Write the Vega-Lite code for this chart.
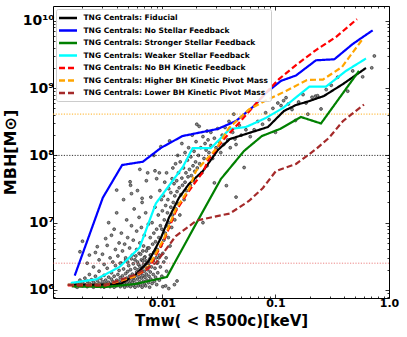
{
  "$schema": "https://vega.github.io/schema/vega-lite/v6.json",
  "width": 336,
  "height": 292,
  "padding": {"left": 2, "top": 5, "right": 5, "bottom": 0},
  "config": {
    "view": {"stroke": "#000", "strokeWidth": 1},
    "font": "DejaVu Sans",
    "axis": {"domain": false, "grid": false, "labelFont": "DejaVu Sans", "labelFontWeight": "bold", "titleFont": "DejaVu Sans", "titleFontWeight": "bold", "tickColor": "#000", "tickWidth": 0.8, "labelColor": "#000", "titleColor": "#000", "labelOverlap": false, "labelFlush": false},
    "legend": {"orient": "top-left", "offset": 3, "padding": 2.5, "fillColor": "rgba(255,255,255,0.85)", "strokeColor": "#cccccc", "strokeWidth": 1, "cornerRadius": 2, "symbolType": "M-1.8,0H1.8", "symbolSize": 100, "symbolOffset": 3, "symbolStrokeWidth": 2.5, "labelFont": "DejaVu Sans", "labelFontWeight": "bold", "labelFontSize": 7.5, "labelColor": "#000", "labelLimit": 400, "rowPadding": 0.5, "labelOffset": 9}
  },
  "datasets": {
    "lines": [
      {"series": "TNG Centrals: Fiducial", "t": 0.001485, "m": 1190000},
      {"series": "TNG Centrals: Fiducial", "t": 0.00262, "m": 1190000},
      {"series": "TNG Centrals: Fiducial", "t": 0.00435, "m": 1230000},
      {"series": "TNG Centrals: Fiducial", "t": 0.0059, "m": 1700000},
      {"series": "TNG Centrals: Fiducial", "t": 0.00768, "m": 2700000},
      {"series": "TNG Centrals: Fiducial", "t": 0.0098, "m": 5900000},
      {"series": "TNG Centrals: Fiducial", "t": 0.01153, "m": 11800000},
      {"series": "TNG Centrals: Fiducial", "t": 0.01412, "m": 23300000},
      {"series": "TNG Centrals: Fiducial", "t": 0.0173, "m": 37600000},
      {"series": "TNG Centrals: Fiducial", "t": 0.023, "m": 58600000},
      {"series": "TNG Centrals: Fiducial", "t": 0.0311, "m": 120000000},
      {"series": "TNG Centrals: Fiducial", "t": 0.0397, "m": 175000000},
      {"series": "TNG Centrals: Fiducial", "t": 0.0584, "m": 215000000},
      {"series": "TNG Centrals: Fiducial", "t": 0.0859, "m": 264000000},
      {"series": "TNG Centrals: Fiducial", "t": 0.1188, "m": 457000000},
      {"series": "TNG Centrals: Fiducial", "t": 0.1517, "m": 561000000},
      {"series": "TNG Centrals: Fiducial", "t": 0.1933, "m": 632000000},
      {"series": "TNG Centrals: Fiducial", "t": 0.2675, "m": 764000000},
      {"series": "TNG Centrals: Fiducial", "t": 0.3935, "m": 1150000000},
      {"series": "TNG Centrals: Fiducial", "t": 0.627, "m": 1990000000},
      {"series": "TNG Centrals: No Stellar Feedback", "t": 0.00171, "m": 1640000},
      {"series": "TNG Centrals: No Stellar Feedback", "t": 0.00302, "m": 23500000},
      {"series": "TNG Centrals: No Stellar Feedback", "t": 0.00447, "m": 72000000},
      {"series": "TNG Centrals: No Stellar Feedback", "t": 0.0068, "m": 80500000},
      {"series": "TNG Centrals: No Stellar Feedback", "t": 0.00986, "m": 130000000},
      {"series": "TNG Centrals: No Stellar Feedback", "t": 0.0152, "m": 194000000},
      {"series": "TNG Centrals: No Stellar Feedback", "t": 0.031, "m": 247000000},
      {"series": "TNG Centrals: No Stellar Feedback", "t": 0.0449, "m": 324000000},
      {"series": "TNG Centrals: No Stellar Feedback", "t": 0.0647, "m": 542000000},
      {"series": "TNG Centrals: No Stellar Feedback", "t": 0.0824, "m": 845000000},
      {"series": "TNG Centrals: No Stellar Feedback", "t": 0.1118, "m": 1280000000},
      {"series": "TNG Centrals: No Stellar Feedback", "t": 0.1517, "m": 1540000000},
      {"series": "TNG Centrals: No Stellar Feedback", "t": 0.2275, "m": 2590000000},
      {"series": "TNG Centrals: No Stellar Feedback", "t": 0.33, "m": 2680000000},
      {"series": "TNG Centrals: No Stellar Feedback", "t": 0.479, "m": 4520000000},
      {"series": "TNG Centrals: No Stellar Feedback", "t": 0.718, "m": 7230000000},
      {"series": "TNG Centrals: Stronger Stellar Feedback", "t": 0.00161, "m": 1130000},
      {"series": "TNG Centrals: Stronger Stellar Feedback", "t": 0.00321, "m": 1110000},
      {"series": "TNG Centrals: Stronger Stellar Feedback", "t": 0.0059, "m": 1230000},
      {"series": "TNG Centrals: Stronger Stellar Feedback", "t": 0.01107, "m": 1560000},
      {"series": "TNG Centrals: Stronger Stellar Feedback", "t": 0.01995, "m": 9570000},
      {"series": "TNG Centrals: Stronger Stellar Feedback", "t": 0.0331, "m": 44600000},
      {"series": "TNG Centrals: Stronger Stellar Feedback", "t": 0.0528, "m": 116000000},
      {"series": "TNG Centrals: Stronger Stellar Feedback", "t": 0.076, "m": 194000000},
      {"series": "TNG Centrals: Stronger Stellar Feedback", "t": 0.1096, "m": 247000000},
      {"series": "TNG Centrals: Stronger Stellar Feedback", "t": 0.1678, "m": 372000000},
      {"series": "TNG Centrals: Stronger Stellar Feedback", "t": 0.2518, "m": 298000000},
      {"series": "TNG Centrals: Stronger Stellar Feedback", "t": 0.544, "m": 1800000000},
      {"series": "TNG Centrals: Weaker Stellar Feedback", "t": 0.001578, "m": 1270000},
      {"series": "TNG Centrals: Weaker Stellar Feedback", "t": 0.002636, "m": 1440000},
      {"series": "TNG Centrals: Weaker Stellar Feedback", "t": 0.004238, "m": 2200000},
      {"series": "TNG Centrals: Weaker Stellar Feedback", "t": 0.00636, "m": 4260000},
      {"series": "TNG Centrals: Weaker Stellar Feedback", "t": 0.00885, "m": 19300000},
      {"series": "TNG Centrals: Weaker Stellar Feedback", "t": 0.0153, "m": 67300000},
      {"series": "TNG Centrals: Weaker Stellar Feedback", "t": 0.01864, "m": 128000000},
      {"series": "TNG Centrals: Weaker Stellar Feedback", "t": 0.027, "m": 128000000},
      {"series": "TNG Centrals: Weaker Stellar Feedback", "t": 0.0397, "m": 247000000},
      {"series": "TNG Centrals: Weaker Stellar Feedback", "t": 0.055, "m": 264000000},
      {"series": "TNG Centrals: Weaker Stellar Feedback", "t": 0.0824, "m": 360000000},
      {"series": "TNG Centrals: Weaker Stellar Feedback", "t": 0.1164, "m": 506000000},
      {"series": "TNG Centrals: Weaker Stellar Feedback", "t": 0.1986, "m": 1050000000},
      {"series": "TNG Centrals: Weaker Stellar Feedback", "t": 0.2786, "m": 1050000000},
      {"series": "TNG Centrals: Weaker Stellar Feedback", "t": 0.418, "m": 1800000000},
      {"series": "TNG Centrals: Weaker Stellar Feedback", "t": 0.627, "m": 2750000000},
      {"series": "TNG Centrals: No BH Kinetic Feedback", "t": 0.001485, "m": 1170000},
      {"series": "TNG Centrals: No BH Kinetic Feedback", "t": 0.00321, "m": 1170000},
      {"series": "TNG Centrals: No BH Kinetic Feedback", "t": 0.0059, "m": 1610000},
      {"series": "TNG Centrals: No BH Kinetic Feedback", "t": 0.00768, "m": 2120000},
      {"series": "TNG Centrals: No BH Kinetic Feedback", "t": 0.0104, "m": 5350000},
      {"series": "TNG Centrals: No BH Kinetic Feedback", "t": 0.01328, "m": 14900000},
      {"series": "TNG Centrals: No BH Kinetic Feedback", "t": 0.0173, "m": 29600000},
      {"series": "TNG Centrals: No BH Kinetic Feedback", "t": 0.023, "m": 56600000},
      {"series": "TNG Centrals: No BH Kinetic Feedback", "t": 0.02594, "m": 88300000},
      {"series": "TNG Centrals: No BH Kinetic Feedback", "t": 0.0352, "m": 175000000},
      {"series": "TNG Centrals: No BH Kinetic Feedback", "t": 0.0477, "m": 303000000},
      {"series": "TNG Centrals: No BH Kinetic Feedback", "t": 0.0776, "m": 764000000},
      {"series": "TNG Centrals: No BH Kinetic Feedback", "t": 0.1074, "m": 1360000000},
      {"series": "TNG Centrals: No BH Kinetic Feedback", "t": 0.1517, "m": 2200000000},
      {"series": "TNG Centrals: No BH Kinetic Feedback", "t": 0.2275, "m": 3680000000},
      {"series": "TNG Centrals: No BH Kinetic Feedback", "t": 0.341, "m": 5740000000},
      {"series": "TNG Centrals: No BH Kinetic Feedback", "t": 0.5224, "m": 10600000000},
      {"series": "TNG Centrals: Higher BH Kinetic Pivot Mass", "t": 0.001485, "m": 1190000},
      {"series": "TNG Centrals: Higher BH Kinetic Pivot Mass", "t": 0.00321, "m": 1190000},
      {"series": "TNG Centrals: Higher BH Kinetic Pivot Mass", "t": 0.0059, "m": 1610000},
      {"series": "TNG Centrals: Higher BH Kinetic Pivot Mass", "t": 0.00768, "m": 2270000},
      {"series": "TNG Centrals: Higher BH Kinetic Pivot Mass", "t": 0.0104, "m": 5730000},
      {"series": "TNG Centrals: Higher BH Kinetic Pivot Mass", "t": 0.01328, "m": 16000000},
      {"series": "TNG Centrals: Higher BH Kinetic Pivot Mass", "t": 0.0173, "m": 31700000},
      {"series": "TNG Centrals: Higher BH Kinetic Pivot Mass", "t": 0.01995, "m": 58600000},
      {"series": "TNG Centrals: Higher BH Kinetic Pivot Mass", "t": 0.0299, "m": 124000000},
      {"series": "TNG Centrals: Higher BH Kinetic Pivot Mass", "t": 0.0389, "m": 255000000},
      {"series": "TNG Centrals: Higher BH Kinetic Pivot Mass", "t": 0.0584, "m": 481000000},
      {"series": "TNG Centrals: Higher BH Kinetic Pivot Mass", "t": 0.0859, "m": 678000000},
      {"series": "TNG Centrals: Higher BH Kinetic Pivot Mass", "t": 0.1238, "m": 906000000},
      {"series": "TNG Centrals: Higher BH Kinetic Pivot Mass", "t": 0.1895, "m": 1320000000},
      {"series": "TNG Centrals: Higher BH Kinetic Pivot Mass", "t": 0.2622, "m": 1340000000},
      {"series": "TNG Centrals: Higher BH Kinetic Pivot Mass", "t": 0.3854, "m": 2060000000},
      {"series": "TNG Centrals: Higher BH Kinetic Pivot Mass", "t": 0.59, "m": 5460000000},
      {"series": "TNG Centrals: Lower BH Kinetic Pivot Mass", "t": 0.001485, "m": 1190000},
      {"series": "TNG Centrals: Lower BH Kinetic Pivot Mass", "t": 0.00321, "m": 1190000},
      {"series": "TNG Centrals: Lower BH Kinetic Pivot Mass", "t": 0.0059, "m": 1700000},
      {"series": "TNG Centrals: Lower BH Kinetic Pivot Mass", "t": 0.00885, "m": 2520000},
      {"series": "TNG Centrals: Lower BH Kinetic Pivot Mass", "t": 0.01328, "m": 6340000},
      {"series": "TNG Centrals: Lower BH Kinetic Pivot Mass", "t": 0.0203, "m": 10800000},
      {"series": "TNG Centrals: Lower BH Kinetic Pivot Mass", "t": 0.0397, "m": 13700000},
      {"series": "TNG Centrals: Lower BH Kinetic Pivot Mass", "t": 0.0584, "m": 21000000},
      {"series": "TNG Centrals: Lower BH Kinetic Pivot Mass", "t": 0.0776, "m": 32800000},
      {"series": "TNG Centrals: Lower BH Kinetic Pivot Mass", "t": 0.101, "m": 58600000},
      {"series": "TNG Centrals: Lower BH Kinetic Pivot Mass", "t": 0.1517, "m": 74500000},
      {"series": "TNG Centrals: Lower BH Kinetic Pivot Mass", "t": 0.2275, "m": 124000000},
      {"series": "TNG Centrals: Lower BH Kinetic Pivot Mass", "t": 0.296, "m": 182000000},
      {"series": "TNG Centrals: Lower BH Kinetic Pivot Mass", "t": 0.3935, "m": 324000000},
      {"series": "TNG Centrals: Lower BH Kinetic Pivot Mass", "t": 0.602, "m": 570000000}
    ],
    "points": [
      {"t":0.0017,"m":1.2e6},{"t":0.00175,"m":1.13e6},{"t":0.0018,"m":1.28e6},{"t":0.0018,"m":1.1e6},{"t":0.0019,"m":1.22e6},{"t":0.0019,"m":1.4e6},{"t":0.002,"m":1.15e6},{"t":0.002,"m":1.3e6},{"t":0.0021,"m":1.2e6},{"t":0.0021,"m":1.5e6},
      {"t":0.0022,"m":1.12e6},{"t":0.0022,"m":1.35e6},{"t":0.0023,"m":1.25e6},{"t":0.0023,"m":1.7e6},{"t":0.0024,"m":1.18e6},{"t":0.0024,"m":1.42e6},{"t":0.0025,"m":1.1e6},{"t":0.0025,"m":1.3e6},{"t":0.0026,"m":1.22e6},{"t":0.0026,"m":1.6e6},
      {"t":0.0027,"m":1.15e6},{"t":0.0027,"m":1.38e6},{"t":0.0028,"m":1.26e6},{"t":0.0028,"m":1.9e6},{"t":0.0029,"m":1.12e6},{"t":0.0029,"m":1.48e6},{"t":0.003,"m":1.2e6},{"t":0.003,"m":1.33e6},{"t":0.0031,"m":1.1e6},{"t":0.0031,"m":1.65e6},
      {"t":0.0032,"m":1.25e6},{"t":0.0032,"m":1.4e6},{"t":0.0033,"m":1.16e6},{"t":0.0033,"m":2.1e6},{"t":0.0034,"m":1.3e6},{"t":0.0034,"m":1.55e6},{"t":0.0035,"m":1.12e6},{"t":0.0035,"m":1.22e6},{"t":0.0036,"m":1.45e6},{"t":0.0036,"m":1.8e6},
      {"t":0.0037,"m":1.18e6},{"t":0.0037,"m":1.33e6},{"t":0.0038,"m":1.6e6},{"t":0.0038,"m":1.1e6},{"t":0.0039,"m":1.26e6},{"t":0.0039,"m":2.3e6},{"t":0.004,"m":1.4e6},{"t":0.004,"m":1.15e6},{"t":0.0041,"m":1.7e6},{"t":0.0041,"m":1.22e6},
      {"t":0.0042,"m":1.35e6},{"t":0.0042,"m":1.95e6},{"t":0.0043,"m":1.12e6},{"t":0.0043,"m":1.52e6},{"t":0.0044,"m":1.28e6},{"t":0.0044,"m":2.5e6},{"t":0.0045,"m":1.18e6},{"t":0.0045,"m":1.62e6},{"t":0.0046,"m":1.4e6},{"t":0.0046,"m":2.05e6},
      {"t":0.0047,"m":1.1e6},{"t":0.0047,"m":1.3e6},{"t":0.0048,"m":1.75e6},{"t":0.0048,"m":2.8e6},{"t":0.0049,"m":1.22e6},{"t":0.0049,"m":1.5e6},{"t":0.005,"m":1.15e6},{"t":0.005,"m":1.88e6},{"t":0.0051,"m":1.35e6},{"t":0.0051,"m":2.3e6},
      {"t":0.0052,"m":1.25e6},{"t":0.0052,"m":1.6e6},{"t":0.0053,"m":1.12e6},{"t":0.0053,"m":2.0e6},{"t":0.0054,"m":1.45e6},{"t":0.0054,"m":2.9e6},{"t":0.0055,"m":1.3e6},{"t":0.0055,"m":1.72e6},{"t":0.0056,"m":1.18e6},{"t":0.0056,"m":2.45e6},
      {"t":0.0057,"m":1.55e6},{"t":0.0057,"m":1.38e6},{"t":0.0058,"m":2.1e6},{"t":0.0058,"m":1.1e6},{"t":0.0059,"m":1.65e6},{"t":0.0059,"m":3.2e6},{"t":0.006,"m":1.25e6},{"t":0.006,"m":1.85e6},{"t":0.0061,"m":1.45e6},{"t":0.0061,"m":2.6e6},
      {"t":0.0062,"m":1.15e6},{"t":0.0062,"m":2.0e6},{"t":0.0063,"m":1.58e6},{"t":0.0063,"m":3.5e6},{"t":0.0064,"m":1.32e6},{"t":0.0064,"m":2.25e6},{"t":0.0065,"m":1.78e6},{"t":0.0065,"m":1.2e6},{"t":0.0066,"m":2.8e6},{"t":0.0066,"m":1.5e6},
      {"t":0.0067,"m":1.1e6},{"t":0.0067,"m":2.1e6},{"t":0.0068,"m":1.65e6},{"t":0.0068,"m":3.8e6},{"t":0.0069,"m":1.35e6},{"t":0.0069,"m":2.4e6},{"t":0.007,"m":1.9e6},{"t":0.007,"m":1.22e6},{"t":0.0071,"m":1.55e6},{"t":0.0071,"m":3.1e6},
      {"t":0.0072,"m":2.2e6},{"t":0.0072,"m":1.15e6},{"t":0.0073,"m":1.72e6},{"t":0.0073,"m":2.7e6},{"t":0.0074,"m":1.4e6},{"t":0.0075,"m":2.0e6},{"t":0.0075,"m":4.2e6},{"t":0.0076,"m":1.28e6},{"t":0.0077,"m":1.6e6},{"t":0.0077,"m":2.5e6},
      {"t":0.0078,"m":1.1e6},{"t":0.0079,"m":1.85e6},{"t":0.0079,"m":3.3e6},{"t":0.008,"m":1.45e6},{"t":0.0081,"m":2.2e6},{"t":0.0082,"m":1.25e6},{"t":0.0083,"m":2.8e6},{"t":0.0084,"m":1.7e6},{"t":0.0085,"m":3.6e6},{"t":0.0086,"m":1.35e6},
      {"t":0.0087,"m":2.1e6},{"t":0.0088,"m":1.55e6},{"t":0.0089,"m":4.0e6},{"t":0.009,"m":1.2e6},{"t":0.0091,"m":2.5e6},{"t":0.0092,"m":1.8e6},{"t":0.0094,"m":3.0e6},{"t":0.0095,"m":1.4e6},{"t":0.0097,"m":2.2e6},{"t":0.01,"m":1.6e6},
      {"t":0.0102,"m":1.12e6},{"t":0.0104,"m":2.6e6},{"t":0.0108,"m":1.15e6},{"t":0.011,"m":1.9e6},{"t":0.0115,"m":1.05e6},{"t":0.0129,"m":1.2e6},{"t":0.0136,"m":1.36e6},
      {"t":0.0019,"m":3.7e6},{"t":0.002,"m":5.3e6},{"t":0.0022,"m":2.5e6},{"t":0.0023,"m":3.3e6},{"t":0.0025,"m":2.2e6},{"t":0.0026,"m":3.6e6},{"t":0.0027,"m":4.4e6},{"t":0.0028,"m":2.8e6},{"t":0.003,"m":3.4e6},{"t":0.0031,"m":2.4e6},
      {"t":0.0032,"m":5.8e6},{"t":0.0033,"m":4.6e6},{"t":0.0034,"m":1.0e7},{"t":0.0035,"m":3.0e6},{"t":0.0036,"m":6.5e6},{"t":0.0037,"m":2.6e6},{"t":0.0038,"m":8.0e6},{"t":0.0039,"m":4.0e6},{"t":0.004,"m":1.4e7},{"t":0.0041,"m":3.2e6},
      {"t":0.0042,"m":5.0e6},{"t":0.0043,"m":2.5e6},{"t":0.0044,"m":7.0e6},{"t":0.0045,"m":3.8e6},{"t":0.0046,"m":2.2e7},{"t":0.0047,"m":4.8e6},{"t":0.0048,"m":3.0e6},{"t":0.0049,"m":1.1e7},{"t":0.005,"m":6.0e6},{"t":0.005,"m":2.6e6},
      {"t":0.0052,"m":4.2e6},{"t":0.0053,"m":3.6e7},{"t":0.0054,"m":9.0e6},{"t":0.0055,"m":3.3e6},{"t":0.0056,"m":5.5e6},{"t":0.0057,"m":1.6e7},{"t":0.0058,"m":2.8e6},{"t":0.006,"m":7.5e6},{"t":0.006,"m":4.0e6},{"t":0.0061,"m":3.0e7},
      {"t":0.0062,"m":2.4e6},{"t":0.0063,"m":1.2e7},{"t":0.0064,"m":5.0e6},{"t":0.0065,"m":3.4e6},{"t":0.0066,"m":8.5e6},{"t":0.0067,"m":2.0e7},{"t":0.0068,"m":2.7e6},{"t":0.0069,"m":4.5e6},{"t":0.007,"m":6.5e6},{"t":0.007,"m":3.0e6},
      {"t":0.0072,"m":1.4e7},{"t":0.0073,"m":3.8e6},{"t":0.0074,"m":2.5e6},{"t":0.0075,"m":5.5e7},{"t":0.0076,"m":9.5e6},{"t":0.0077,"m":4.2e6},{"t":0.0078,"m":2.9e6},{"t":0.0079,"m":6.0e6},{"t":0.008,"m":2.4e7},{"t":0.008,"m":3.3e6},
      {"t":0.0082,"m":1.0e7},{"t":0.0083,"m":4.8e6},{"t":0.0084,"m":2.7e6},{"t":0.0085,"m":7.0e6},{"t":0.0086,"m":3.6e6},{"t":0.0087,"m":1.7e7},{"t":0.0088,"m":5.2e6},{"t":0.0089,"m":3.0e6},{"t":0.009,"m":4.5e7},{"t":0.009,"m":8.0e6},
      {"t":0.0091,"m":4.0e6},{"t":0.0092,"m":2.6e6},{"t":0.0093,"m":1.3e7},{"t":0.0094,"m":6.0e6},{"t":0.0095,"m":3.3e6},{"t":0.0096,"m":3.0e7},{"t":0.0097,"m":9.0e6},{"t":0.0098,"m":4.5e6},{"t":0.0099,"m":2.2e7},
      {"t":0.0064,"m":6.2e7},{"t":0.00525,"m":4.05e7},{"t":0.004,"m":3.05e7},{"t":0.0054,"m":2.7e7},{"t":0.0067,"m":2.3e7},{"t":0.0073,"m":4.2e7},{"t":0.0087,"m":5.9e7},{"t":0.0095,"m":5.5e7},{"t":0.0098,"m":1.35e8},{"t":0.0085,"m":1.0e8},
      {"t":0.01,"m":8.0e6},{"t":0.0101,"m":1.5e7},{"t":0.0102,"m":3.5e6},{"t":0.0103,"m":2.5e7},{"t":0.0104,"m":5.5e6},{"t":0.0105,"m":1.1e7},{"t":0.0106,"m":4.0e7},{"t":0.0107,"m":7.0e6},{"t":0.0108,"m":1.8e7},{"t":0.0109,"m":3.0e6},
      {"t":0.011,"m":9.0e6},{"t":0.011,"m":5.5e7},{"t":0.0112,"m":1.4e7},{"t":0.0113,"m":2.2e7},{"t":0.0114,"m":6.0e6},{"t":0.0115,"m":3.2e7},{"t":0.0116,"m":1.0e7},{"t":0.0117,"m":1.64e8},{"t":0.0118,"m":4.5e6},{"t":0.012,"m":1.7e7},
      {"t":0.012,"m":2.8e7},{"t":0.0122,"m":8.5e6},{"t":0.0123,"m":4.5e7},{"t":0.0124,"m":1.3e7},{"t":0.0125,"m":6.5e7},{"t":0.0126,"m":2.0e7},{"t":0.0128,"m":3.8e7},{"t":0.013,"m":1.1e7},{"t":0.013,"m":2.5e7},{"t":0.0132,"m":7.5e7},
      {"t":0.0133,"m":1.6e7},{"t":0.0135,"m":4.2e7},{"t":0.0136,"m":2.9e7},{"t":0.0138,"m":1.0e8},{"t":0.014,"m":1.9e7},{"t":0.014,"m":5.5e7},{"t":0.0142,"m":3.3e7},{"t":0.0144,"m":1.3e7},{"t":0.0145,"m":8.0e7},{"t":0.0147,"m":2.6e7},
      {"t":0.015,"m":4.6e7},{"t":0.015,"m":1.5e8},{"t":0.0152,"m":3.6e7},{"t":0.0155,"m":6.5e7},{"t":0.0157,"m":2.2e7},{"t":0.016,"m":1.1e8},{"t":0.016,"m":4.0e7},{"t":0.0163,"m":5.5e7},{"t":0.0165,"m":3.0e7},{"t":0.0168,"m":8.5e7},
      {"t":0.017,"m":4.8e7},{"t":0.0172,"m":1.3e8},{"t":0.0175,"m":6.2e7},{"t":0.0178,"m":3.6e7},{"t":0.018,"m":9.5e7},{"t":0.0182,"m":5.0e7},{"t":0.0185,"m":2.0e8},{"t":0.0188,"m":7.0e7},{"t":0.019,"m":4.2e7},{"t":0.0192,"m":1.15e8},
      {"t":0.0195,"m":5.8e7},{"t":0.0198,"m":8.0e7},{"t":0.02,"m":1.6e8},{"t":0.0203,"m":2.9e8},{"t":0.0205,"m":6.5e7},{"t":0.021,"m":1.0e8},{"t":0.0213,"m":2.7e8},{"t":0.0215,"m":7.5e7},{"t":0.022,"m":1.3e8},{"t":0.0225,"m":5.5e7},
      {"t":0.023,"m":1.0e7},{"t":0.023,"m":1.9e8},{"t":0.0235,"m":9.0e7},{"t":0.024,"m":1.5e8},{"t":0.0245,"m":1.2e8},{"t":0.025,"m":7.0e7},{"t":0.025,"m":2.3e8},{"t":0.0255,"m":1.7e8},{"t":0.026,"m":1.1e8},{"t":0.027,"m":2.2e8},
      {"t":0.027,"m":1.4e8},{"t":0.028,"m":9.0e7},{"t":0.029,"m":3.9e7},{"t":0.029,"m":1.8e8},{"t":0.03,"m":1.3e8},{"t":0.031,"m":2.5e8},{"t":0.032,"m":1.6e8},{"t":0.033,"m":1.1e8},{"t":0.034,"m":2.0e8},{"t":0.035,"m":1.45e8},
      {"t":0.036,"m":2.6e8},{"t":0.037,"m":3.55e7},{"t":0.038,"m":1.7e8},{"t":0.039,"m":3.2e8},{"t":0.04,"m":1.3e8},{"t":0.042,"m":2.2e8},{"t":0.043,"m":4.1e8},{"t":0.044,"m":1.75e8},{"t":0.045,"m":2.4e7},{"t":0.045,"m":1.45e8},
      {"t":0.048,"m":2.8e8},{"t":0.05,"m":2.0e8},{"t":0.053,"m":6.6e7},{"t":0.055,"m":2.4e8},{"t":0.06,"m":1.9e8},{"t":0.065,"m":2.4e8},{"t":0.07,"m":3.2e8},
      {"t":0.077,"m":2.9e8},{"t":0.082,"m":4.3e8},{"t":0.088,"m":3.4e8},{"t":0.095,"m":5.0e8},{"t":0.1,"m":2.2e8},{"t":0.105,"m":6.0e8},{"t":0.112,"m":5.5e8},{"t":0.118,"m":6.5e8},{"t":0.124,"m":7.2e8},{"t":0.13,"m":5.8e8},
      {"t":0.14,"m":4.8e8},{"t":0.15,"m":3.3e8},{"t":0.16,"m":6.2e8},{"t":0.175,"m":8.0e8},{"t":0.186,"m":6.0e8},{"t":0.193,"m":4.1e8},{"t":0.21,"m":7.3e8},{"t":0.225,"m":7.6e8},{"t":0.235,"m":7.7e8},{"t":0.252,"m":4.9e8},
      {"t":0.28,"m":9.5e8},{"t":0.31,"m":1.1e9},{"t":0.353,"m":1.45e9},{"t":0.433,"m":9.0e8},{"t":0.479,"m":1.8e9},{"t":0.586,"m":1.47e9},{"t":0.705,"m":2.0e9},{"t":0.743,"m":3.0e9}
    ]
  },
  "layer": [
    {
      "data": {"name": "points"},
      "mark": {"type": "point", "shape": "circle", "filled": true, "fill": "#8a8a8a", "stroke": "#1a1a1a", "strokeWidth": 0.6, "size": 8.5, "opacity": 1},
      "encoding": {
        "x": {"field": "t", "type": "quantitative", "scale": {"type": "log", "domain": [0.0011, 1.0], "nice": false},
          "axis": {"orient": "bottom", "values": [0.002,0.003,0.004,0.005,0.006,0.007,0.008,0.009,0.01,0.02,0.03,0.04,0.05,0.06,0.07,0.08,0.09,0.1,0.2,0.3,0.4,0.5,0.6,0.7,0.8,0.9,1],
            "labelExpr": "datum.value == 0.01 ? '0.01' : datum.value == 0.1 ? '0.1' : datum.value == 1 ? '1.0' : ''",
            "tickSize": {"condition": {"test": "datum.value == 0.01 || datum.value == 0.1 || datum.value == 1", "value": -4}, "value": -2},
            "labelPadding": 3, "labelFontSize": 11, "title": "Tmw( < R500c)[keV]", "titleFontSize": 15, "titlePadding": 3}},
        "y": {"field": "m", "type": "quantitative", "scale": {"type": "log", "domain": [760000, 16600000000], "nice": false},
          "axis": {"orient": "left", "values": [800000,900000,1000000,2000000,3000000,4000000,5000000,6000000,7000000,8000000,9000000,10000000,20000000,30000000,40000000,50000000,60000000,70000000,80000000,90000000,100000000,200000000,300000000,400000000,500000000,600000000,700000000,800000000,900000000,1000000000,2000000000,3000000000,4000000000,5000000000,6000000000,7000000000,8000000000,9000000000,10000000000],
            "labelExpr": "datum.value == 1000000 ? '10⁶' : datum.value == 10000000 ? '10⁷' : datum.value == 100000000 ? '10⁸' : datum.value == 1000000000 ? '10⁹' : datum.value == 10000000000 ? '10¹⁰' : ''",
            "tickSize": {"condition": {"test": "datum.value == 1000000 || datum.value == 10000000 || datum.value == 100000000 || datum.value == 1000000000 || datum.value == 10000000000", "value": -4}, "value": -2},
            "labelPadding": 3, "labelFontSize": 14, "title": "MBH[M⊙]", "titleFontSize": 16, "titlePadding": 4}}
      }
    },
    {
      "data": {"values": [{"m": 410000000}]},
      "mark": {"type": "rule", "color": "#ffa500", "opacity": 0.7, "strokeWidth": 1.2, "strokeDash": [1.2, 1.5]},
      "encoding": {"y": {"field": "m", "type": "quantitative", "axis": null}}
    },
    {
      "data": {"values": [{"m": 100000000}]},
      "mark": {"type": "rule", "color": "#000000", "opacity": 0.8, "strokeWidth": 1, "strokeDash": [1.2, 1.5]},
      "encoding": {"y": {"field": "m", "type": "quantitative", "axis": null}}
    },
    {
      "data": {"values": [{"m": 2500000}]},
      "mark": {"type": "rule", "color": "#e03030", "opacity": 0.6, "strokeWidth": 1, "strokeDash": [1.2, 1.5]},
      "encoding": {"y": {"field": "m", "type": "quantitative", "axis": null}}
    },
    {
      "data": {"name": "lines"},
      "mark": {"type": "line", "strokeWidth": 2.2},
      "encoding": {
        "x": {"field": "t", "type": "quantitative",
          "axis": {"orient": "top", "values": [0.002,0.003,0.004,0.005,0.006,0.007,0.008,0.009,0.01,0.02,0.03,0.04,0.05,0.06,0.07,0.08,0.09,0.1,0.2,0.3,0.4,0.5,0.6,0.7,0.8,0.9,1],
            "labels": false, "title": null,
            "tickSize": {"condition": {"test": "datum.value == 0.01 || datum.value == 0.1 || datum.value == 1", "value": -4}, "value": -2}}},
        "y": {"field": "m", "type": "quantitative",
          "axis": {"orient": "right", "values": [800000,900000,1000000,2000000,3000000,4000000,5000000,6000000,7000000,8000000,9000000,10000000,20000000,30000000,40000000,50000000,60000000,70000000,80000000,90000000,100000000,200000000,300000000,400000000,500000000,600000000,700000000,800000000,900000000,1000000000,2000000000,3000000000,4000000000,5000000000,6000000000,7000000000,8000000000,9000000000,10000000000],
            "labels": false, "title": null,
            "tickSize": {"condition": {"test": "datum.value == 1000000 || datum.value == 10000000 || datum.value == 100000000 || datum.value == 1000000000 || datum.value == 10000000000", "value": -4}, "value": -2}}},
        "color": {"field": "series", "type": "nominal",
          "scale": {"domain": ["TNG Centrals: Fiducial", "TNG Centrals: No Stellar Feedback", "TNG Centrals: Stronger Stellar Feedback", "TNG Centrals: Weaker Stellar Feedback", "TNG Centrals: No BH Kinetic Feedback", "TNG Centrals: Higher BH Kinetic Pivot Mass", "TNG Centrals: Lower BH Kinetic Pivot Mass"],
            "range": ["#000000", "#0000ff", "#008000", "#00ffff", "#ff0000", "#ffa500", "#a52a2a"]},
          "legend": {"title": null}},
        "strokeDash": {"field": "series", "type": "nominal",
          "scale": {"domain": ["TNG Centrals: Fiducial", "TNG Centrals: No Stellar Feedback", "TNG Centrals: Stronger Stellar Feedback", "TNG Centrals: Weaker Stellar Feedback", "TNG Centrals: No BH Kinetic Feedback", "TNG Centrals: Higher BH Kinetic Pivot Mass", "TNG Centrals: Lower BH Kinetic Pivot Mass"],
            "range": [[1, 0], [1, 0], [1, 0], [1, 0], [6, 3], [6, 3], [6, 3]]},
          "legend": {"title": null}}
      }
    }
  ],
  "resolve": {"axis": {"x": "independent", "y": "independent"}}
}
